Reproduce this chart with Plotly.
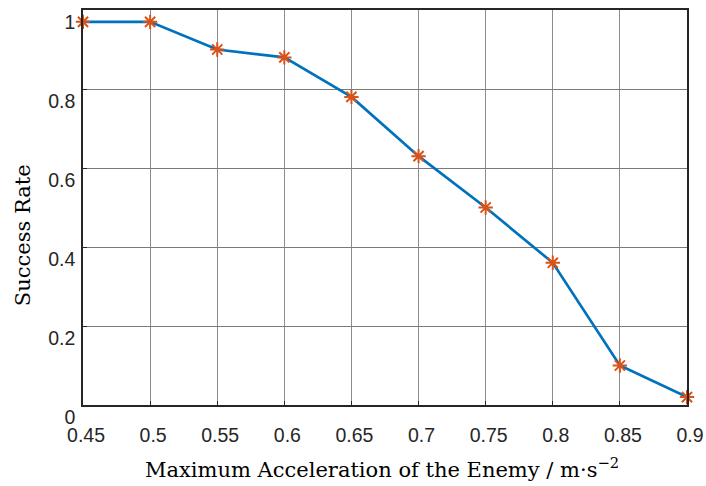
import plotly.graph_objects as go

accel = [0.45, 0.5, 0.55, 0.6, 0.65, 0.7, 0.75, 0.8, 0.85, 0.9]
success = [0.97, 0.97, 0.90, 0.88, 0.78, 0.63, 0.50, 0.36, 0.10, 0.02]
x_ticks = [0.45, 0.5, 0.55, 0.6, 0.65, 0.7, 0.75, 0.8, 0.85, 0.9]
x_tick_labels = ["0.45", "0.5", "0.55", "0.6", "0.65", "0.7", "0.75", "0.8", "0.85", "0.9"]
y_ticks = [0, 0.2, 0.4, 0.6, 0.8, 1.0]
y_tick_labels = ["0", "0.2", "0.4", "0.6", "0.8", "1"]
x_title = "Maximum Acceleration of the Enemy / m·s<sup>−2</sup>"
y_title = "Success Rate"

fig = go.Figure()
fig.add_trace(go.Scatter(
    x=accel, y=success, mode="lines+markers",
    line=dict(color="#0072BD", width=2.7),
    marker=dict(symbol="asterisk", size=12, color="#D95319",
                line=dict(color="#D95319", width=2)),
    cliponaxis=False, showlegend=False,
))

tickfont = dict(family="Liberation Sans, Arial, sans-serif", size=19.5, color="#262626")
titlefont = dict(family="DejaVu Serif, serif", size=21, color="#000000")

fig.update_layout(
    width=706, height=486,
    margin=dict(l=83, r=19, t=10, b=81, autoexpand=False),
    plot_bgcolor="white", paper_bgcolor="white",
    xaxis=dict(
        range=[0.45, 0.9], tickvals=x_ticks, ticktext=x_tick_labels,
        showgrid=True, gridcolor="#8c8c8c", gridwidth=1,
        showline=True, linecolor="#262626", linewidth=1.5, mirror=True,
        ticks="inside", ticklen=4, tickcolor="#262626",
        tickfont=tickfont, ticklabelshift=3, ticklabelstandoff=12,
        ticklabeloverflow="allow", automargin=False,
        zeroline=False,
    ),
    yaxis=dict(
        range=[0, 1], tickvals=y_ticks, ticktext=y_tick_labels,
        showgrid=True, gridcolor="#7a7a7a", gridwidth=1,
        showline=True, linecolor="#262626", linewidth=1.5, mirror=True,
        ticks="inside", ticklen=4, tickcolor="#262626",
        tickfont=tickfont, ticklabelshift=12, ticklabelstandoff=2,
        ticklabeloverflow="allow", automargin=False,
        zeroline=False,
    ),
    annotations=[
        dict(text=x_title, xref="paper", yref="paper", x=0.495, y=0,
             yshift=-63, xanchor="center", yanchor="middle",
             showarrow=False, font=titlefont),
        dict(text=y_title, xref="paper", yref="paper", x=0, y=0.43,
             xshift=-60, xanchor="center", yanchor="middle", textangle=-90,
             showarrow=False, font=titlefont),
    ],
)

# remove the default 8px page margin so the 706x486 figure fills the window
fig.write_html("out.html",
               config={"displayModeBar": False},
               post_script="document.body.style.margin='0';document.body.style.overflow='hidden';")
